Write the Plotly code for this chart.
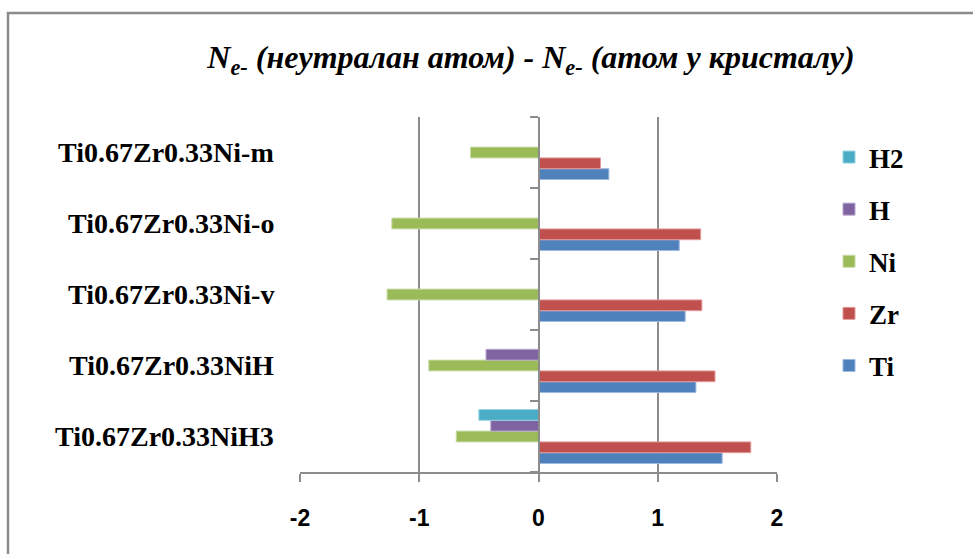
import plotly.graph_objects as go

# Compounds, listed bottom to top as they appear on the category axis
compounds = [
    "Ti0.67Zr0.33NiH3",
    "Ti0.67Zr0.33NiH",
    "Ti0.67Zr0.33Ni-v",
    "Ti0.67Zr0.33Ni-o",
    "Ti0.67Zr0.33Ni-m",
]

# Charge difference per atom type (None where the atom is absent)
ti_vals = [1.54, 1.32, 1.23, 1.18, 0.59]
zr_vals = [1.78, 1.48, 1.37, 1.36, 0.52]
ni_vals = [-0.69, -0.92, -1.27, -1.23, -0.57]
h_vals = [-0.40, -0.44, None, None, None]
h2_vals = [-0.50, None, None, None, None]

series_names = ["Ti", "Zr", "Ni", "H", "H2"]
series_values = [ti_vals, zr_vals, ni_vals, h_vals, h2_vals]
series_colors = ["#4F81BD", "#C0504D", "#9BBB59", "#8064A2", "#4BACC6"]
edge_colors = ["#9DB9E0", "#E29C9A", "#C8DBA6", "#B6A5CC", "#96D3E3"]

x_ticks = [-2, -1, 0, 1, 2]

W, H = 973, 554
L, R, T, B = 300, 196, 117, 82
plot_w = W - L - R
plot_h = H - T - B

grid = "#8C8C8C"
serif = "Liberation Serif"

fig = go.Figure()
n = len(series_names)
for i, (name, vals, col, edge) in enumerate(
    zip(series_names, series_values, series_colors, edge_colors)
):
    fig.add_trace(
        go.Bar(
            y=compounds,
            x=vals,
            name=name,
            orientation="h",
            marker=dict(color=col, line=dict(color=edge, width=1)),
            legendgroup=name,
            legendrank=n - i,  # last series listed first in the legend
        )
    )

# Category labels to the left of the plotting area
for c in compounds:
    fig.add_annotation(
        x=(276 - L) / plot_w,
        xref="paper",
        y=c,
        yref="y",
        text=f"<b>{c}</b>",
        showarrow=False,
        xanchor="right",
        yanchor="middle",
        font=dict(family=serif, size=28, color="#000000"),
    )

# Outer chart frame
fig.add_shape(
    type="rect",
    xref="paper",
    yref="paper",
    x0=(8 - L) / plot_w,
    x1=(W + 40 - L) / plot_w,
    y0=-(B + 40) / plot_h,
    y1=(H - B - 13) / plot_h,
    line=dict(color="#8C8C8C", width=2.5),
    fillcolor="rgba(0,0,0,0)",
    layer="below",
)

fig.update_layout(
    width=W,
    height=H,
    margin=dict(l=L, r=R, t=T, b=B),
    paper_bgcolor="#FFFFFF",
    plot_bgcolor="#FFFFFF",
    barmode="group",
    bargap=0.24,
    bargroupgap=0,
    showlegend=True,
    title=dict(
        text="<b><i>N<sub>e-</sub> (неутралан атом) - N<sub>e-</sub> (атом у кристалу)</i></b>",
        x=531 / W,
        xanchor="center",
        xref="container",
        y=1 - 57 / H,
        yanchor="middle",
        yref="container",
        font=dict(family=serif, size=32, color="#000000"),
    ),
    legend=dict(
        traceorder="grouped",
        x=(829 - L) / plot_w,
        xanchor="left",
        y=(H - B - 133) / plot_h,
        yanchor="top",
        font=dict(family=serif, size=27, color="#000000", weight="bold"),
        tracegroupgap=14,
        bgcolor="rgba(0,0,0,0)",
        itemwidth=30,
    ),
    xaxis=dict(
        range=[-2, 2],
        tickvals=x_ticks,
        ticktext=[str(v) for v in x_ticks],
        showgrid=True,
        gridcolor=grid,
        gridwidth=2,
        zeroline=False,
        showline=True,
        linecolor=grid,
        linewidth=2,
        ticks="outside",
        ticklen=8,
        tickwidth=2,
        tickcolor=grid,
        ticklabelstandoff=16,
        tickfont=dict(family="Liberation Sans", size=23, color="#000000", weight="bold"),
        fixedrange=True,
    ),
    yaxis=dict(
        type="category",
        categoryorder="array",
        categoryarray=compounds,
        anchor="free",
        position=0.5,
        showline=True,
        linecolor=grid,
        linewidth=2,
        ticks="outside",
        tickson="boundaries",
        ticklen=8,
        tickwidth=2,
        tickcolor=grid,
        showticklabels=False,
        showgrid=False,
        zeroline=False,
        fixedrange=True,
    ),
)

fig.write_html("out.html")
